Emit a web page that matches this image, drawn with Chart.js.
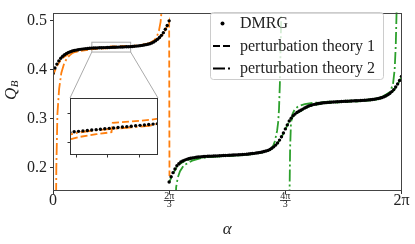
<!DOCTYPE html>
<html>
<head>
<meta charset="utf-8">
<script src="https://cdn.jsdelivr.net/npm/chart.js@4.4.0/dist/chart.umd.min.js"></script>
<style>
  html, body { margin: 0; padding: 0; background: #fff; }
  #wrap { position: relative; width: 415px; height: 244px; }
  #main { position: absolute; left: 0; top: 0; }
  #inset { position: absolute; }
</style>
</head>
<body>
<div id="wrap">
  <canvas id="main" width="415" height="244"></canvas>
  <canvas id="inset"></canvas>
</div>
<script>
// ====== Q_B vs alpha ======

// ---- Data: DMRG (dots) ----
const dmrgAlpha1 = [0, 0.035, 0.070, 0.105, 0.140, 0.175, 0.209, 0.244, 0.279, 0.314, 0.349, 0.384, 0.419, 0.454, 0.489, 0.524,
  0.559, 0.593, 0.628, 0.663, 0.698, 0.733, 0.768, 0.803, 0.838, 0.873, 0.908, 0.942, 0.977, 1.012, 1.047, 1.082, 1.117, 1.152,
  1.187, 1.222, 1.257, 1.292, 1.326, 1.361, 1.396, 1.431, 1.466, 1.501, 1.536, 1.571, 1.606, 1.641, 1.676, 1.710, 1.745, 1.780,
  1.815, 1.850, 1.885, 1.920, 1.955, 1.990, 2.025, 2.059, 2.094];
const dmrgQ1 = [0.392, 0.403, 0.411, 0.4175, 0.423, 0.4268, 0.430, 0.4325, 0.4345, 0.4362, 0.4375, 0.4386, 0.4395, 0.4403, 0.441, 0.4415,
  0.442, 0.4424, 0.4428, 0.4432, 0.4435, 0.44365, 0.4438, 0.44395, 0.4441, 0.44425, 0.4444, 0.44455, 0.4447, 0.44485, 0.445, 0.44515,
  0.4453, 0.44545, 0.4456, 0.44575, 0.4459, 0.44605, 0.4462, 0.44635, 0.4465, 0.4468, 0.4472, 0.4476, 0.448, 0.4485, 0.449, 0.4497,
  0.4505, 0.4514, 0.4525, 0.454, 0.456, 0.4585, 0.4615, 0.465, 0.4695, 0.475, 0.482, 0.4895, 0.499];

const dmrgAlpha2 = [2.094, 2.129, 2.164, 2.199, 2.234, 2.269, 2.304, 2.339, 2.374, 2.409, 2.443, 2.478, 2.513, 2.548, 2.583, 2.618,
  2.653, 2.688, 2.723, 2.758, 2.793, 2.827, 2.862, 2.897, 2.932, 2.967, 3.002, 3.037, 3.072, 3.107, 3.142, 3.176, 3.211, 3.246,
  3.281, 3.316, 3.351, 3.386, 3.421, 3.456, 3.491, 3.526, 3.560, 3.595, 3.630, 3.665, 3.700, 3.735, 3.770, 3.805, 3.840, 3.875,
  3.910, 3.944, 3.979, 4.014, 4.049, 4.084, 4.119, 4.154, 4.189];
const dmrgQ2 = [0.171, 0.1815, 0.190, 0.1975, 0.204, 0.208, 0.2115, 0.2137, 0.2155, 0.217, 0.2182, 0.2192, 0.220, 0.2206, 0.2212, 0.2217,
  0.2221, 0.2225, 0.2228, 0.2231, 0.2233, 0.2235, 0.2236, 0.2238, 0.224, 0.2242, 0.2244, 0.2246, 0.2248, 0.225, 0.2252, 0.2254,
  0.2256, 0.2258, 0.226, 0.2262, 0.2264, 0.2266, 0.2269, 0.2272, 0.2275, 0.2279, 0.2283, 0.2288, 0.2293, 0.2299, 0.2305, 0.2312,
  0.232, 0.2329, 0.234, 0.2353, 0.237, 0.2395, 0.2425, 0.246, 0.2505, 0.2562, 0.263, 0.2708, 0.279];

const dmrgAlpha3 = [4.224, 4.259, 4.294, 4.328, 4.363, 4.398, 4.433, 4.468, 4.503, 4.538, 4.573, 4.608, 4.643, 4.677, 4.712, 4.747,
  4.782, 4.817, 4.852, 4.887, 4.922, 4.957, 4.992, 5.027, 5.061, 5.096, 5.131, 5.166, 5.201, 5.236, 5.271, 5.306, 5.341, 5.376,
  5.411, 5.445, 5.480, 5.515, 5.550, 5.585, 5.620, 5.655, 5.690, 5.725, 5.760, 5.794, 5.829, 5.864, 5.899, 5.934, 5.969, 6.004,
  6.039, 6.074, 6.109, 6.144, 6.178, 6.213, 6.248, 6.283];
const dmrgQ3 = [0.2872, 0.295, 0.3009, 0.306, 0.3092, 0.3125, 0.3149, 0.317, 0.3193, 0.3215, 0.3236, 0.3255, 0.3269, 0.328, 0.329, 0.3298,
  0.3306, 0.3312, 0.3317, 0.3322, 0.3326, 0.333, 0.3333, 0.3336, 0.33385, 0.3341, 0.33435, 0.3346, 0.3348, 0.335, 0.3352, 0.3354,
  0.3356, 0.3358, 0.336, 0.3362, 0.3364, 0.3366, 0.33685, 0.3371, 0.3374, 0.3377, 0.3381, 0.3385, 0.339, 0.3395, 0.3402, 0.341,
  0.3419, 0.343, 0.3445, 0.3465, 0.3488, 0.3515, 0.355, 0.359, 0.3643, 0.3705, 0.3775, 0.386];

// ---- Data: perturbation theory 1 (dashed) ----
const pt1Alpha1 = [0, 0.07, 0.14, 0.21, 0.28, 0.35, 0.49, 0.63, 0.77, 0.91, 1.03, 1.04, 1.19, 1.33, 1.47, 1.61, 1.75, 1.82, 1.89, 1.96, 2.03, 2.094, 2.10];
const pt1Q1 = [0.388, 0.407, 0.4195, 0.4265, 0.431, 0.4343, 0.4378, 0.4402, 0.4418, 0.4428, 0.4435, 0.4468, 0.4473, 0.4478, 0.4487, 0.4506,
  0.4538, 0.4568, 0.4615, 0.469, 0.4805, 0.498, 0.183];

const pt1Alpha23 = [2.094, 2.164, 2.234, 2.304, 2.374, 2.513, 2.653, 2.793, 2.932, 3.072, 3.211, 3.351, 3.491, 3.630, 3.770, 3.840, 3.910, 3.979, 4.049, 4.119, 4.189,
  4.259, 4.328, 4.398, 4.468, 4.608, 4.747, 4.887, 5.027, 5.166, 5.306, 5.445, 5.585, 5.725, 5.794, 5.864, 5.934, 6.004, 6.074, 6.144, 6.213, 6.283];
const pt1Q23 = [0.170, 0.188, 0.2015, 0.209, 0.2135, 0.2183, 0.2205, 0.2218, 0.2226, 0.2234, 0.2242, 0.225, 0.2262, 0.2281, 0.2308, 0.2328, 0.236, 0.2415, 0.2495, 0.262, 0.278,
  0.294, 0.3045, 0.311, 0.3157, 0.3242, 0.3285, 0.3308, 0.3322, 0.3332, 0.334, 0.3348, 0.3357, 0.3371, 0.3382, 0.3396, 0.3416, 0.345, 0.35, 0.3575, 0.369, 0.3845];

// ---- Data: perturbation theory 2 (dash-dot) ----
const pt2Alpha1 = [0.04, 0.06, 0.08, 0.11, 0.15, 0.20, 0.25, 0.30, 0.35, 0.49, 0.63, 0.77, 0.91, 1.05, 1.19, 1.33, 1.47, 1.61, 1.75, 1.82, 1.87, 1.91, 1.94, 1.96, 1.98];
const pt2Q1 = [-0.1, 0.2, 0.31, 0.36, 0.393, 0.412, 0.4225, 0.4288, 0.4335, 0.4398, 0.442, 0.4434, 0.4442, 0.4447, 0.4452, 0.4457, 0.4472, 0.4496,
  0.4543, 0.459, 0.466, 0.479, 0.497, 0.522, 0.57];

const pt2Alpha2 = [2.20, 2.22, 2.25, 2.29, 2.36, 2.51, 2.65, 2.79, 2.93, 3.07, 3.21, 3.35, 3.49, 3.63, 3.77, 3.91, 3.97, 4.00, 4.04, 4.06, 4.075, 4.09, 4.11, 4.13];
const pt2Q2 = [0.10, 0.16, 0.18, 0.193, 0.205, 0.2145, 0.219, 0.2215, 0.2228, 0.2238, 0.2247, 0.2256, 0.2268, 0.229, 0.2315, 0.2365, 0.2445, 0.254,
  0.275, 0.293, 0.32, 0.37, 0.48, 0.62];

const pt2Alpha3 = [4.255, 4.265, 4.275, 4.29, 4.32, 4.36, 4.42, 4.54, 4.68, 4.82, 4.96, 5.10, 5.24, 5.38, 5.52, 5.66, 5.80, 5.94, 6.01, 6.076, 6.13, 6.16, 6.18, 6.195, 6.21];
const pt2Q3 = [0.05, 0.15, 0.24, 0.29, 0.31, 0.319, 0.325, 0.3295, 0.3318, 0.3332, 0.3343, 0.3351, 0.3359, 0.3366, 0.3374, 0.3385, 0.3403, 0.345,
  0.3495, 0.354, 0.37, 0.40, 0.45, 0.52, 0.60];

// ---- Axes, ticks, texts ----
const xTicks = [0, 2 * Math.PI / 3, 4 * Math.PI / 3, 2 * Math.PI];
const xTickLabels = ["0", ["2π", "3"], ["4π", "3"], "2π"];
const yTicks = [0.2, 0.3, 0.4, 0.5];
const yRange = [0.1526, 0.5158];
const insetXRange = [0.70, 1.40];
const insetYRange = [0.4355, 0.4555];
const insetXTicks = [0.75, 1.0, 1.25];
const insetYTicks = [0.44, 0.45];
const legendLabels = ["DMRG", "perturbation theory 1", "perturbation theory 2"];
const xTitle = "α";
const yTitle = ["Q", "B"];

// ---- Styles ----
const SERIF = "'Liberation Serif', serif";
const ORANGE = "#ff7f0e";
const GREEN = "#2ca02c";
const DASH = [7, 3];
const DASHDOT = [12, 3, 2, 3];
const insetBox = { left: 70, top: 98, right: 158, bottom: 155 };

Chart.defaults.font.family = SERIF;
Chart.defaults.color = "#222";

const pts = (xs, ys) => xs.map((x, i) => ({ x, y: ys[i] }));

const dmrgSet = () => ({
  label: legendLabels[0],
  data: pts(dmrgAlpha1.concat(dmrgAlpha2, dmrgAlpha3), dmrgQ1.concat(dmrgQ2, dmrgQ3)),
  showLine: false,
  pointRadius: 1.7,
  pointBackgroundColor: "#000",
  pointBorderWidth: 0,
  borderColor: "#000",
});

const lineSet = (label, xs, ys, color, dash) => ({
  label,
  data: pts(xs, ys),
  borderColor: color,
  borderWidth: 1.8,
  borderDash: dash,
  pointRadius: 0,
  tension: 0,
  fill: false,
});

// ---- Plugins ----
const framePlugin = {
  id: "frame",
  afterDraw(chart, args, opts) {
    const { ctx, chartArea: a } = chart;
    ctx.save();
    ctx.strokeStyle = opts.color || "#444";
    ctx.lineWidth = 1;
    ctx.strokeRect(Math.round(a.left) + 0.5, Math.round(a.top) + 0.5,
      Math.round(a.right) - Math.round(a.left) - 1, Math.round(a.bottom) - Math.round(a.top) - 1);
    ctx.restore();
  },
};

const zoomMarkPlugin = {
  id: "zoomMark",
  beforeDatasetsDraw(chart) {
    const { ctx, scales: { x, y } } = chart;
    const l = x.getPixelForValue(insetXRange[0]);
    const r = x.getPixelForValue(insetXRange[1]);
    const t = y.getPixelForValue(insetYRange[1]);
    const b = y.getPixelForValue(insetYRange[0]);
    ctx.save();
    ctx.strokeStyle = "#aaaaaa";
    ctx.lineWidth = 1;
    ctx.strokeRect(l, t, r - l, b - t);
    ctx.beginPath();
    ctx.moveTo(l, b); ctx.lineTo(insetBox.left, insetBox.top);
    ctx.moveTo(r, b); ctx.lineTo(insetBox.right, insetBox.top);
    ctx.stroke();
    ctx.restore();
  },
};

const textPlugin = {
  id: "extraText",
  afterDraw(chart) {
    const { ctx } = chart;
    const xs = chart.scales.x;
    ctx.save();
    ctx.fillStyle = "#222";
    // fraction bars under the pi/3 tick labels
    xs.ticks.forEach((t, i) => {
      if (Array.isArray(xTickLabels[i])) {
        const px = xs.getPixelForValue(t.value);
        ctx.fillRect(px - 5.3, xs.top + 9.2, 10.6, 0.8);
      }
    });
    // y title Q_B
    ctx.translate(15.5, 100);
    ctx.rotate(-Math.PI / 2);
    ctx.textBaseline = "alphabetic";
    ctx.font = "italic 17px " + SERIF;
    ctx.fillText(yTitle[0], 0, 0);
    const w = ctx.measureText(yTitle[0]).width;
    ctx.font = "italic 11px " + SERIF;
    ctx.fillText(yTitle[1], w + 0.5, 2);
    ctx.restore();
  },
};

const legendPlugin = {
  id: "boxLegend",
  afterDraw(chart) {
    const { ctx } = chart;
    ctx.save();
    ctx.beginPath();
    ctx.roundRect(210.5, 12.5, 173, 67, 3);
    ctx.fillStyle = "rgba(255,255,255,0.8)";
    ctx.fill();
    ctx.strokeStyle = "#cccccc";
    ctx.lineWidth = 1;
    ctx.stroke();

    ctx.font = "16px " + SERIF;
    ctx.textBaseline = "middle";
    legendLabels.forEach((label, i) => {
      const cy = 23.5 + i * 22.5;
      ctx.fillStyle = "#000";
      ctx.strokeStyle = "#000";
      if (i === 0) {
        ctx.beginPath();
        ctx.arc(222.5, cy, 2, 0, 2 * Math.PI);
        ctx.fill();
      } else {
        ctx.lineWidth = 1.8;
        ctx.setLineDash(i === 1 ? DASH : DASHDOT);
        ctx.beginPath();
        ctx.moveTo(213, cy);
        ctx.lineTo(233, cy);
        ctx.stroke();
        ctx.setLineDash([]);
      }
      ctx.fillStyle = "#222";
      ctx.fillText(label, 240, cy + 0.5);
    });
    ctx.restore();
  },
};

const whiteAreaPlugin = {
  id: "whiteArea",
  beforeDraw(chart) {
    const { ctx, chartArea: a } = chart;
    ctx.save();
    ctx.fillStyle = "#fff";
    ctx.fillRect(a.left, a.top, a.right - a.left, a.bottom - a.top);
    ctx.restore();
  },
};

// ---- Main chart ----
const initMainChart = () => {
  new Chart(document.getElementById("main"), {
    type: "line",
    data: {
      datasets: [
        dmrgSet(),
        lineSet(legendLabels[1], pt1Alpha1, pt1Q1, ORANGE, DASH),
        lineSet(legendLabels[1], pt1Alpha23, pt1Q23, GREEN, DASH),
        lineSet(legendLabels[2], pt2Alpha1, pt2Q1, ORANGE, DASHDOT),
        lineSet(legendLabels[2], pt2Alpha2, pt2Q2, GREEN, DASHDOT),
        lineSet(legendLabels[2], pt2Alpha3, pt2Q3, GREEN, DASHDOT),
      ],
    },
    options: {
      responsive: false,
      animation: false,
      events: [],
      layout: { padding: { left: 0, right: 13.5, top: 7, bottom: 0 } },
      plugins: { legend: { display: false }, tooltip: { enabled: false }, frame: { color: "#444" } },
      scales: {
        x: {
          type: "linear",
          min: 0,
          max: 2 * Math.PI,
          afterBuildTicks: s => { s.ticks = xTicks.map(v => ({ value: v })); },
          afterFit: s => { s.height = 53; },
          ticks: {
            autoSkip: false,
            maxRotation: 0,
            padding: -1.5,
            color: "#222",
            callback: (v, i) => xTickLabels[i],
            font: c => (Array.isArray(xTickLabels[c.index]) ? { size: 10, lineHeight: 0.8 } : { size: 16, lineHeight: 1 }),
          },
          grid: { drawOnChartArea: false, drawTicks: true, tickLength: 3, tickColor: "#333" },
          border: { display: false },
          title: {
            display: true,
            text: xTitle,
            color: "#222",
            font: { size: 17, style: "italic", lineHeight: 1 },
            padding: { top: 0, bottom: 5.5 },
          },
        },
        y: {
          type: "linear",
          min: yRange[0],
          max: yRange[1],
          afterBuildTicks: s => { s.ticks = yTicks.map(v => ({ value: v })); },
          afterFit: s => { s.width = 53; },
          ticks: { padding: 3, color: "#222", font: { size: 16 }, callback: v => v.toFixed(1) },
          grid: { drawOnChartArea: false, drawTicks: true, tickLength: 3, tickColor: "#333" },
          border: { display: false },
        },
      },
    },
    plugins: [zoomMarkPlugin, framePlugin, textPlugin, legendPlugin],
  });
};

// ---- Inset chart ----
const initInsetChart = () => {
  const cv = document.getElementById("inset");
  const padL = 8, padT = 4, padR = 4, padB = 6;
  cv.width = insetBox.right - insetBox.left + padL + padR;
  cv.height = insetBox.bottom - insetBox.top + padT + padB;
  cv.style.left = (insetBox.left - padL) + "px";
  cv.style.top = (insetBox.top - padT) + "px";

  new Chart(cv, {
    type: "line",
    data: {
      datasets: [
        dmrgSet(),
        lineSet(legendLabels[1], pt1Alpha1, pt1Q1, ORANGE, DASH),
        lineSet(legendLabels[2], pt2Alpha1, pt2Q1, ORANGE, DASHDOT),
      ],
    },
    options: {
      responsive: false,
      animation: false,
      events: [],
      layout: { padding: { left: 0, right: padR, top: padT, bottom: 0 } },
      plugins: { legend: { display: false }, tooltip: { enabled: false }, frame: { color: "#333" } },
      scales: {
        x: {
          type: "linear",
          min: insetXRange[0],
          max: insetXRange[1],
          afterBuildTicks: s => { s.ticks = insetXTicks.map(v => ({ value: v })); },
          afterFit: s => { s.height = padB; },
          ticks: { display: false },
          grid: { drawOnChartArea: false, drawTicks: true, tickLength: 2.5, tickColor: "#333" },
          border: { display: false },
        },
        y: {
          type: "linear",
          min: insetYRange[0],
          max: insetYRange[1],
          afterBuildTicks: s => { s.ticks = insetYTicks.map(v => ({ value: v })); },
          afterFit: s => { s.width = padL; },
          ticks: { display: false },
          grid: { drawOnChartArea: false, drawTicks: true, tickLength: 2.5, tickColor: "#333" },
          border: { display: false },
        },
      },
    },
    plugins: [whiteAreaPlugin, framePlugin],
  });
};

// ---- Jalankan ----
initMainChart();
initInsetChart();
</script>
</body>
</html>
